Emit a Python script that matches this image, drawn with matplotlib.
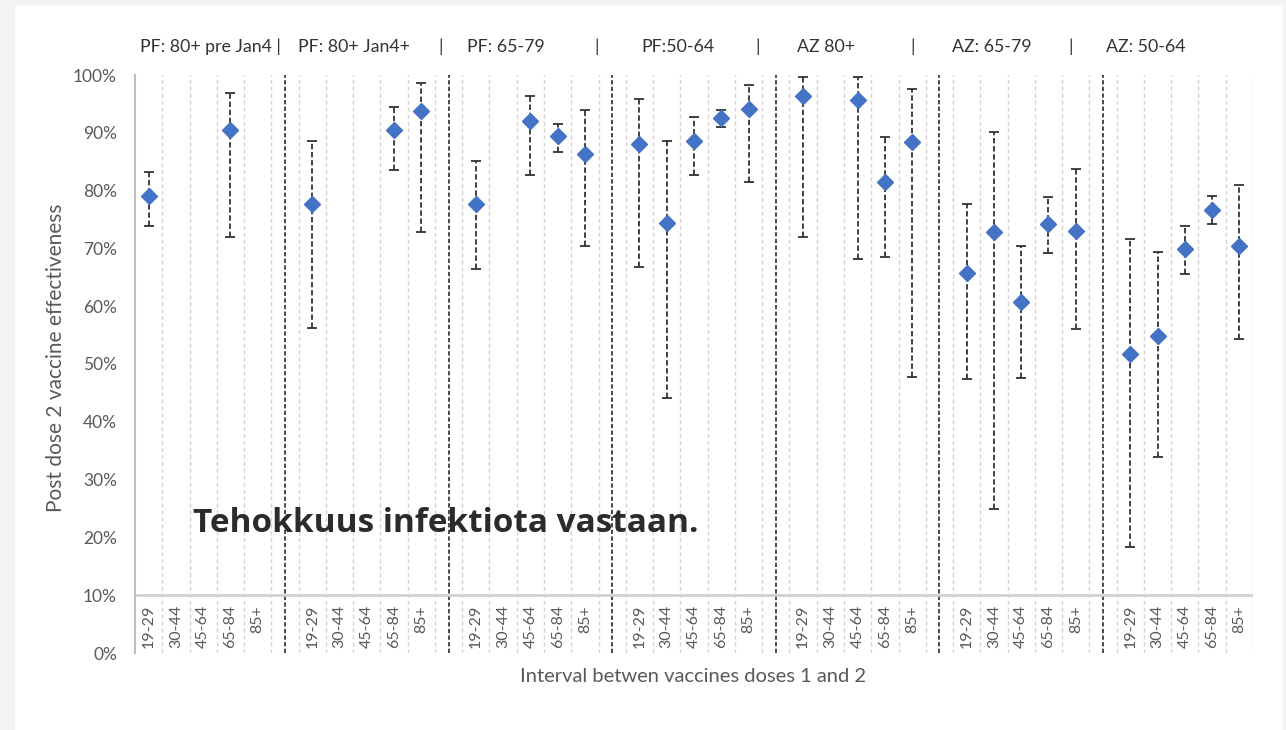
import matplotlib
matplotlib.use("Agg")
import matplotlib.pyplot as plt
from matplotlib.patches import Rectangle
import numpy as np

# ---------------- data ----------------
groups = ["PF: 80+ pre Jan4", "PF: 80+ Jan4+", "PF: 65-79", "PF:50-64",
          "AZ 80+", "AZ: 65-79", "AZ: 50-64"]
intervals = ["19-29", "30-44", "45-64", "65-84", "85+"]

# effectiveness (%), None = no estimate
ve = [
    [79.0, None, None, 90.5, None],
    [77.6, None, None, 90.4, 93.8],
    [77.6, None, 92.1, 89.4, 86.3],
    [88.0, 74.4, 88.6, 92.6, 94.2],
    [96.4, None, 95.7, 81.5, 88.4],
    [65.7, 72.8, 60.7, 74.2, 73.0],
    [51.7, 54.8, 69.9, 76.6, 70.5],
]
ci_low = [
    [73.8, None, None, 72.0, None],
    [56.2, None, None, 83.6, 72.9],
    [66.4, None, 82.7, 86.6, 70.4],
    [66.8, 44.2, 82.7, 91.0, 81.5],
    [71.9, None, 68.2, 68.5, 47.7],
    [47.4, 24.9, 47.6, 69.2, 56.1],
    [18.3, 33.9, 65.6, 74.2, 54.4],
]
ci_high = [
    [83.3, None, None, 96.8, None],
    [88.6, None, None, 94.4, 98.7],
    [85.2, None, 96.4, 91.6, 93.9],
    [95.8, 88.5, 92.7, 93.9, 98.3],
    [99.6, None, 99.6, 89.3, 97.5],
    [77.7, 90.2, 70.5, 78.9, 83.7],
    [71.6, 69.3, 73.8, 79.0, 81.0],
]
y_ticks = [0, 10, 20, 30, 40, 50, 60, 70, 80, 90, 100]

# ---------------- figure ----------------
W, H = 1286, 730
fig = plt.figure(figsize=(W / 100, H / 100), dpi=100)
fig.patch.set_facecolor("white")
# light grey screenshot frame
for (x0, y0, w, h) in [(0, 0, 14, H), (0, H - 4, W, 4), (1283, 0, 3, H)]:
    fig.patches.append(Rectangle((x0 / W, y0 / H), w / W, h / H,
                                 transform=fig.transFigure, color="#f3f3f3", zorder=0))

ax_l, ax_r, ax_t, ax_b = 135, 1253, 75, 653
ax = fig.add_axes([ax_l / W, 1 - ax_b / H, (ax_r - ax_l) / W, (ax_b - ax_t) / H])
ax.set_facecolor("none")

slots_per_group = len(intervals) + 1
n_slots = len(groups) * slots_per_group - 1
ax.set_xlim(0, n_slots)
ax.set_ylim(0, 100)

# light gridlines at slot boundaries
for k in range(1, n_slots + 1):
    ax.axvline(k, color="#d4d4d4", lw=1.0, ls=(0, (3, 2)), zorder=1)
# dark separators between groups
for g in range(len(groups) - 1):
    xs = g * slots_per_group + len(intervals) + 0.5
    ax.axvline(xs, color="#4a4a4a", lw=1.4, ls=(0, (2.2, 1.2)), zorder=2)

# category axis at 10%
ax.axhline(10, color="#d0d0d0", lw=2.0, zorder=2)

# data
for g in range(len(groups)):
    for i in range(len(intervals)):
        v = ve[g][i]
        if v is None:
            continue
        x = g * slots_per_group + i + 0.5
        ax.errorbar([x], [v], yerr=[[v - ci_low[g][i]], [ci_high[g][i] - v]],
                    fmt="none", ecolor="#333333", elinewidth=1.3, capsize=3.5,
                    capthick=1.3, zorder=3)
        ax.plot([x], [v], marker="D", ms=8.5, color="#4472c4", mec="#4472c4",
                ls="none", zorder=4)

# dashed error bar lines
for coll in ax.collections:
    coll.set_linestyle((0, (3, 1.5)))

# category labels between 10% and 0%
for g in range(len(groups)):
    for i, lab in enumerate(intervals):
        x = g * slots_per_group + i + 0.5
        ax.text(x, 8.3, lab, rotation=90, ha="center", va="top",
                fontsize=11.5, color="#595959", family="Lato")

ax.set_xticks([])
ax.set_yticks(y_ticks)
ax.set_yticklabels([f"{t}%" for t in y_ticks], fontsize=12.5, color="#595959",
                   family="Lato")
ax.tick_params(axis="y", length=0, pad=13)
for s in ["top", "right", "bottom"]:
    ax.spines[s].set_visible(False)
ax.spines["left"].set_color("#bfbfbf")
ax.spines["left"].set_linewidth(1.5)

fig.text(56 / W, 1 - 358 / H, "Post dose 2 vaccine effectiveness", rotation=90,
         ha="center", va="center", fontsize=15, color="#595959", family="Lato")
fig.text(693 / W, 1 - 676 / H, "Interval betwen vaccines doses 1 and 2",
         ha="center", va="center", fontsize=14.5, color="#595959", family="Lato")

# header labels
header_items = [(140, "PF: 80+ pre Jan4 |"), (298, "PF: 80+ Jan4+"), (438, "|"),
                (467, "PF: 65-79"), (594, "|"), (641, "PF:50-64"), (755, "|"),
                (797, "AZ 80+"), (910, "|"), (952, "AZ: 65-79"), (1068, "|"),
                (1106, "AZ: 50-64")]
for x, t in header_items:
    fig.text(x / W, 1 - 47 / H, t, ha="left", va="center", fontsize=12.8,
             color="#333333", family="Lato")

# overlay caption
fig.text(193 / W, 1 - 524 / H, "Tehokkuus infektiota vastaan.", ha="left",
         va="center", fontsize=24, fontweight="bold", color="#2b2b2b",
         family="Open Sans")

fig.savefig("out.png", dpi=100)
